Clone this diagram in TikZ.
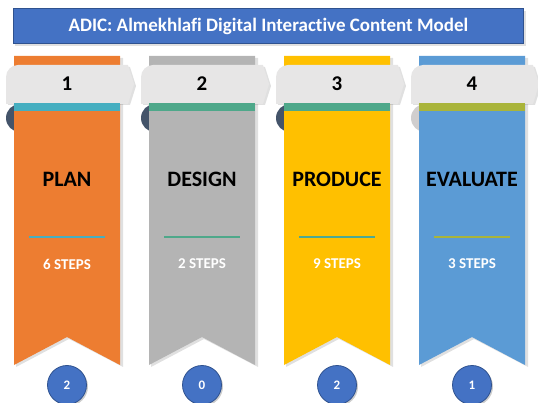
\documentclass[tikz,border=0pt]{standalone}
\usepackage{fontspec}
\setmainfont{Carlito}[Ligatures={NoCommon,NoContextual}]
\definecolor{titleblue}{HTML}{4472C4}
\definecolor{titleborder}{HTML}{2F528F}
\definecolor{rorange}{HTML}{ED7D31}
\definecolor{rgray}{HTML}{B4B4B4}
\definecolor{ryellow}{HTML}{FFC000}
\definecolor{rblue}{HTML}{5B9BD5}
\definecolor{steal}{HTML}{45AEC0}
\definecolor{sgreen}{HTML}{4EA88A}
\definecolor{solive}{HTML}{A9B43A}
\definecolor{tabgray}{HTML}{E7E6E6}
\definecolor{curldark}{HTML}{44546A}
\definecolor{curllight}{HTML}{D0CECE}
\tikzset{
  titlebox/.style={fill=titleblue,draw=titleborder,line width=0.8pt},
  tabnum/.style={font=\fontsize{21}{23}\selectfont\bfseries,text=black},
  namelbl/.style={font=\fontsize{22}{24}\selectfont\bfseries,text=black},
  stepslbl/.style={font=\fontsize{15}{17}\selectfont\bfseries,text=white},
  badge/.style={circle,fill=titleblue,draw=titleborder,line width=0.8pt,minimum size=39pt,inner sep=0pt,
    font=\fontsize{13}{14}\selectfont\bfseries,text=white},
  shade1/.style={fill=black,opacity=0.12},
}
\begin{document}
\begin{tikzpicture}[x=1pt,y=-1pt]
\useasboundingbox (0,0) rectangle (538,403);
% title
\fill[shade1] (15,11) rectangle (526,46);
\node[titlebox,minimum width=510pt,minimum height=35pt,inner sep=0pt,anchor=north west,
  font=\fontsize{19}{21}\selectfont\bfseries,text=white] (title) at (13,8.5)
  {ADIC: Almekhlafi Digital Interactive Content Model};
% ribbons
\foreach \c/\col/\scol/\lcol/\ccol/\num/\name/\steps/\badge/\i in {
  67/rorange/steal/steal/curldark/1/PLAN/6 STEPS/2/1,
  202/rgray/sgreen/sgreen/curldark/2/DESIGN/2 STEPS/0/2,
  337/ryellow/sgreen/sgreen!80!steal/curldark/3/PRODUCE/9 STEPS/2/3,
  472/rblue/solive/solive/curllight/4/EVALUATE/3 STEPS/1/4}{
  % curl behind
  \fill[\ccol] (\c-47,118) circle (14);
  % shadow
  \fill[shade1] (\c-51,58) -- (\c+56,58) -- (\c+56,367) -- (\c+2,339) -- (\c-51,367) -- cycle;
  % ribbon body
  \fill[\col] (\c-53,56) -- (\c+53,56) -- (\c+53,365) -- (\c,337) -- (\c-53,365) -- cycle;
  % tab shadow
  \fill[shade1] (\c-59,79) arc[start angle=180,end angle=270,radius=12]
     -- (\c+63,67) -- (\c+69,86) -- (\c+63,105) -- (\c-59,105) -- cycle;
  % tab
  \fill[tabgray] (\c-61,104) -- (\c-61,77) arc[start angle=180,end angle=270,radius=12]
     -- (\c+61,65) -- (\c+67,84) -- (\c+61,104) -- cycle;
  % stripe
  \fill[\scol] (\c-53,103) rectangle (\c+53,111);
  \node[tabnum] (num\i) at (\c,84) {\num};
  \node[namelbl] (name\i) at (\c,179) {\name};
  \coordinate (la\i) at (\c-38,237);
  \coordinate (lb\i) at (\c+38,237);
  \draw[\lcol,line width=2.2pt] (la\i) -- (lb\i);
  \node[stepslbl] (steps\i) at (\c,264) {\steps};
  \fill[black,opacity=0.2] (\c+1.5,386.5) circle (19.5);
  \node[badge] (badge\i) at (\c,385) {\badge};
}
\end{tikzpicture}
\end{document}
